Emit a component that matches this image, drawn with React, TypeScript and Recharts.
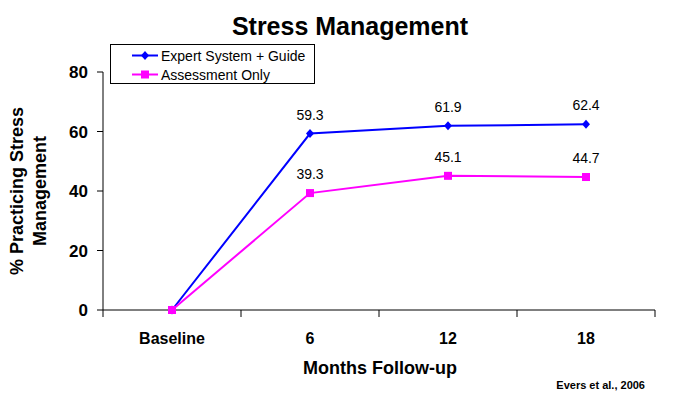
import { LineChart, Line, XAxis, YAxis, Legend } from "recharts";

const months = ["Baseline", "6", "12", "18"];
const expertValues = [0, 59.3, 61.9, 62.4];
const assessmentValues = [0, 39.3, 45.1, 44.7];
const yTicks = [0, 20, 40, 60, 80];

const data = months.map((month, i) => ({
  month,
  expert: expertValues[i],
  assessment: assessmentValues[i],
}));

const FONT = "Arial, 'Liberation Sans', sans-serif";
const BLUE = "#0000FF";
const MAGENTA = "#FF00FF";
const HALF_BAND = 69;

const Diamond = (props: any) => {
  const { cx, cy, index } = props;
  if (cx == null || cy == null) return <g key={`d-${index}`} />;
  return (
    <polygon
      key={`d-${index}`}
      points={`${cx},${cy - 4.5} ${cx + 4},${cy} ${cx},${cy + 4.5} ${cx - 4},${cy}`}
      fill={BLUE}
    />
  );
};

const Square = (props: any) => {
  const { cx, cy, index } = props;
  if (cx == null || cy == null) return <g key={`s-${index}`} />;
  return <rect key={`s-${index}`} x={cx - 4} y={cy - 4} width={8} height={8} fill={MAGENTA} />;
};

const valueLabel = (props: any) => {
  const { value, index } = props;
  const vb = props.viewBox || {};
  const x = props.x ?? vb.x;
  const y = props.y ?? vb.y;
  if (index === 0 || Number(value) === 0 || x == null) return null;
  return (
    <text x={x} y={y - 14} textAnchor="middle" fontSize={14} fontFamily={FONT} fill="#000">
      {value}
    </text>
  );
};

const XTick = (props: any) => {
  const { x, y, payload } = props;
  const last = payload.value === months[months.length - 1];
  return (
    <g>
      <line x1={x - HALF_BAND} x2={x - HALF_BAND} y1={y} y2={y + 7} stroke="#000" />
      {last && <line x1={x + HALF_BAND} x2={x + HALF_BAND} y1={y} y2={y + 7} stroke="#000" />}
      <text x={x} y={y + 34} textAnchor="middle" fontSize={16} fontWeight="bold" fontFamily={FONT} fill="#000">
        {payload.value}
      </text>
    </g>
  );
};

const LegendBox = () => (
  <div
    style={{
      border: "1px solid #000",
      background: "#fff",
      width: 203,
      height: 38,
      fontFamily: FONT,
      fontSize: 14,
      color: "#000",
      boxSizing: "content-box",
    }}
  >
    {[
      { name: "Expert System + Guide", color: BLUE, shape: "diamond" },
      { name: "Assessment Only", color: MAGENTA, shape: "square" },
    ].map((item, i) => (
      <div key={item.name} style={{ position: "absolute", left: 0, top: 2 + i * 19, height: 19, display: "flex", alignItems: "center" }}>
        <svg width={50} height={19} style={{ display: "block" }}>
          <line x1={22} x2={48} y1={9.5} y2={9.5} stroke={item.color} strokeWidth={2} />
          {item.shape === "diamond" ? (
            <polygon points="35,5 39,9.5 35,14 31,9.5" fill={item.color} />
          ) : (
            <rect x={31} y={5.5} width={8} height={8} fill={item.color} />
          )}
        </svg>
        <span style={{ marginLeft: 1, whiteSpace: "nowrap" }}>{item.name}</span>
      </div>
    ))}
  </div>
);

export default function App() {
  return (
    <div style={{ position: "absolute", left: 0, top: 0, width: 673, height: 397, background: "#fff" }}>
      <LineChart width={673} height={397} data={data} margin={{ top: 72, right: 18, bottom: 57, left: 0 }}>
        <XAxis
          dataKey="month"
          height={30}
          padding={{ left: HALF_BAND, right: HALF_BAND }}
          axisLine={{ stroke: "#000", strokeWidth: 1 }}
          tickLine={false}
          tickSize={0}
          tickMargin={0}
          interval={0}
          tick={<XTick />}
        />
        <YAxis
          width={103}
          domain={[0, 80]}
          ticks={yTicks}
          interval={0}
          axisLine={{ stroke: "#000", strokeWidth: 1 }}
          tickLine={{ stroke: "#000" }}
          tickSize={6}
          tickMargin={9}
          tick={{ fill: "#000", fontSize: 17, fontWeight: "bold", fontFamily: FONT }}
        />
        <Legend
          layout="vertical"
          align="center"
          verticalAlign="middle"
          content={() => <LegendBox />}
          wrapperStyle={{ position: "absolute", left: 110, top: 44, width: 205, height: 40 }}
        />
        <Line
          type="linear"
          dataKey="expert"
          name="Expert System + Guide"
          stroke={BLUE}
          strokeWidth={2}
          dot={Diamond}
          activeDot={false}
          label={valueLabel}
          isAnimationActive={false}
        />
        <Line
          type="linear"
          dataKey="assessment"
          name="Assessment Only"
          stroke={MAGENTA}
          strokeWidth={2}
          dot={Square}
          activeDot={false}
          label={valueLabel}
          isAnimationActive={false}
        />
      </LineChart>
      <svg
        width={673}
        height={397}
        style={{ position: "absolute", left: 0, top: 0, pointerEvents: "none" }}
        fontFamily={FONT}
      >
        <text x={350} y={35} textAnchor="middle" fontSize={25} fontWeight="bold" fill="#000">
          Stress Management
        </text>
        <text x={23} y={191} transform="rotate(-90 23 191)" textAnchor="middle" fontSize={18} fontWeight="bold" fill="#000">
          % Practicing Stress
        </text>
        <text x={46} y={191} transform="rotate(-90 46 191)" textAnchor="middle" fontSize={18} fontWeight="bold" fill="#000">
          Management
        </text>
        <text x={380} y={374} textAnchor="middle" fontSize={18} fontWeight="bold" fill="#000">
          Months Follow-up
        </text>
        <text x={645} y={389} textAnchor="end" fontSize={11} fontWeight="bold" fill="#000">
          Evers et al., 2006
        </text>
      </svg>
    </div>
  );
}
